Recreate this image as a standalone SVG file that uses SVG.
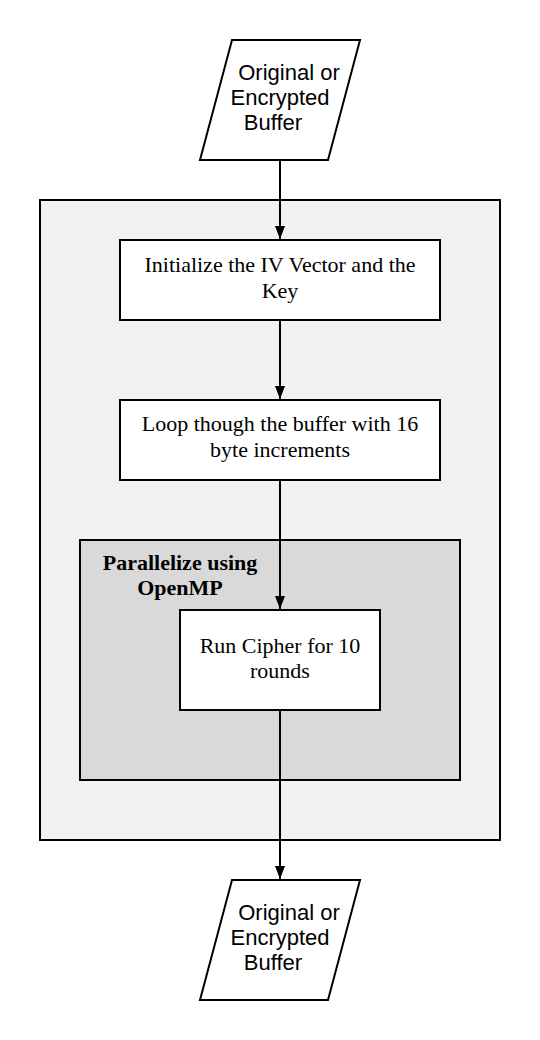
<svg xmlns="http://www.w3.org/2000/svg" width="540" height="1040" viewBox="0 0 540 1040">
<defs>
<marker id="arr" markerWidth="14" markerHeight="10" refX="13" refY="5" orient="auto" markerUnits="userSpaceOnUse" viewBox="0 0 14 10">
<path d="M0,0 L13,5 L0,10 Z" fill="#000"/>
</marker>
</defs>
<style>
.box{fill:#fff;stroke:#000;stroke-width:2}
.sans{font-family:"Liberation Sans",Arial,sans-serif;font-size:22px;fill:#000;text-anchor:middle}
.serif{font-family:"Liberation Serif","Times New Roman",serif;font-size:22px;fill:#000;text-anchor:middle}
.bold{font-weight:bold}
.line{stroke:#000;stroke-width:2;fill:none}
</style>
<rect width="540" height="1040" fill="#fff"/>
<g id="outer">
<rect x="40" y="200" width="460" height="640" fill="#f2f2f2" stroke="#000" stroke-width="2"/>
</g>
<g id="parallel-group">
<rect x="80" y="540" width="380" height="240" fill="#d9d9d9" stroke="#000" stroke-width="2"/>
<text class="serif bold" x="180" y="570">Parallelize using</text>
<text class="serif bold" x="180" y="595">OpenMP</text>
</g>
<g id="input">
<polygon class="box" points="232,40 360,40 328,160 200,160"/>
<text class="sans" x="289" y="80">Original or</text>
<text class="sans" x="280" y="105">Encrypted</text>
<text class="sans" x="273" y="130">Buffer</text>
</g>
<g id="init">
<rect class="box" x="120" y="240" width="320" height="80"/>
<text class="serif" x="280" y="272">Initialize the IV Vector and the</text>
<text class="serif" x="280" y="298">Key</text>
</g>
<g id="loop">
<rect class="box" x="120" y="400" width="320" height="80"/>
<text class="serif" x="280" y="431">Loop though the buffer with 16</text>
<text class="serif" x="280" y="457">byte increments</text>
</g>
<g id="cipher">
<rect class="box" x="180" y="610" width="200" height="100"/>
<text class="serif" x="280" y="653">Run Cipher for 10</text>
<text class="serif" x="280" y="678">rounds</text>
</g>
<g id="output">
<polygon class="box" points="232,880 360,880 328,1000 200,1000"/>
<text class="sans" x="289" y="920">Original or</text>
<text class="sans" x="280" y="945">Encrypted</text>
<text class="sans" x="273" y="970">Buffer</text>
</g>
<g id="connectors">
<line class="line" x1="280" y1="160" x2="280" y2="239" marker-end="url(#arr)"/>
<line class="line" x1="280" y1="320" x2="280" y2="399" marker-end="url(#arr)"/>
<line class="line" x1="280" y1="480" x2="280" y2="609" marker-end="url(#arr)"/>
<line class="line" x1="280" y1="710" x2="280" y2="879" marker-end="url(#arr)"/>
</g>
</svg>
